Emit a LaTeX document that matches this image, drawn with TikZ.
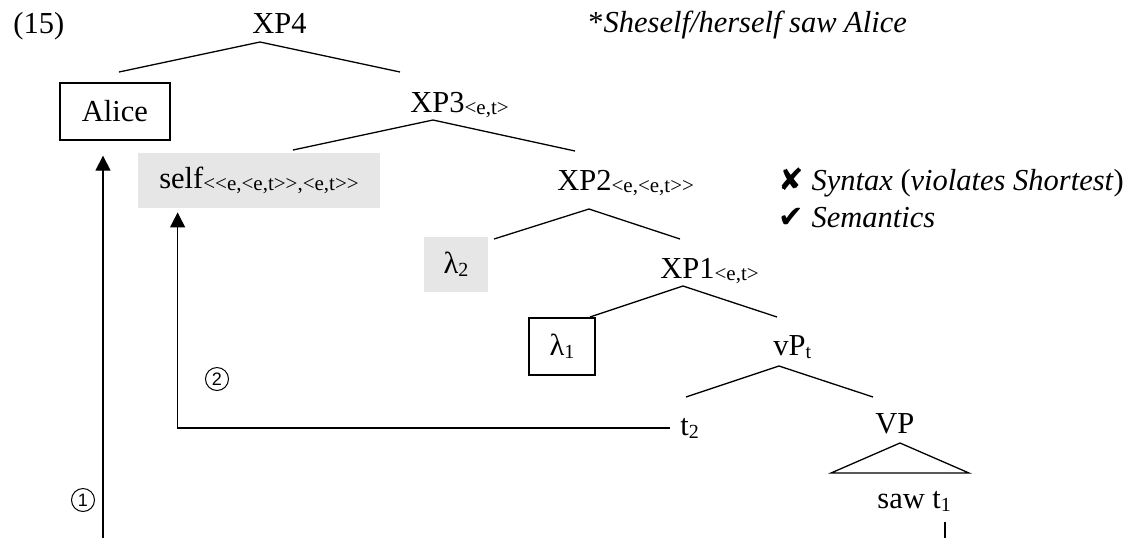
\documentclass[tikz,border=0pt]{standalone}
\usepackage{fontspec}
\setmainfont{Liberation Serif}[
  UprightFont={Liberation Serif},
  ItalicFont={Liberation Serif Italic},
  BoldFont={Liberation Serif Bold}]
\newfontfamily\dejavu{DejaVu Sans}
\newfontfamily\arialish{Liberation Sans}
\usetikzlibrary{arrows.meta,calc}
% semantic type subscripts and index subscripts
\newcommand\typ[1]{\raisebox{-1pt}{\fontsize{10.5}{12}\selectfont #1}}
\newcommand\idx[1]{\raisebox{-1.5pt}{\fontsize{10}{12}\selectfont #1}}
\definecolor{shade}{RGB}{230,230,230}

\begin{document}
\begin{tikzpicture}[x=0.5pt,y=-0.5pt,
  every node/.style={inner sep=0pt, font=\fontsize{15.25}{18}\selectfont},
  lbl/.style={anchor=base west},
  branch/.style={line width=0.65pt},
  boxed/.style={draw, line width=0.65pt, anchor=center},
  shaded/.style={fill=shade, anchor=center},
  move/.style={line width=0.65pt, -{Triangle[length=7.5pt,width=7.5pt]}},
  circnum/.style={circle, draw, line width=0.5pt, minimum size=11.5pt,
    font=\arialish\fontsize{9}{10}\selectfont}]
\useasboundingbox (0,0) rectangle (1142,538);

% labels
\node[lbl] (ex) at (13,33) {(15)};
\node[lbl] (xp4) at (252,33) {XP4};
\node[lbl] (judg) at (588,32) {*\textit{Sheself/herself saw Alice}};
\node[boxed, minimum width=55pt, minimum height=28.5pt] (alice) at (115,111.5) {Alice};
\node[lbl] (xp3) at (410,112) {XP3\typ{<e,t>}};
\node[shaded, minimum width=121pt, minimum height=27.5pt] (self) at (259,180.5)
  {self\typ{<{}<e,<e,t>{}>,<e,t>{}>}};
\node[lbl] (xp2) at (557,190) {XP2\typ{<e,<e,t>{}>}};
\node[lbl] (syn) at (778,190) {{\dejavu ✘} \textit{Syntax} (\textit{violates Shortest})};
\node[lbl] (sem) at (778,227) {{\dejavu ✔} \textit{Semantics}};
\node[shaded, minimum width=32pt, minimum height=27.5pt] (lam2) at (456,264.5) {λ\idx{2}};
\node[lbl] (xp1) at (660,278) {XP1\typ{<e,t>}};
\node[boxed, minimum width=33pt, minimum height=28.5pt] (lam1) at (562,346.5) {λ\idx{1}};
\node[lbl] (vp) at (773,355) {vP\idx{t}};
\node[lbl] (t2) at (680,435) {t\idx{2}};
\node[lbl] (VP) at (875,433) {VP};
\node[lbl] (saw) at (877,508) {saw t\idx{1}};
\node[circnum] (one) at (83,500) {1};
\node[circnum] (two) at (217,379) {2};

% branch points of the tree
\coordinate (xp4-b) at (260,42);
\coordinate (xp4-l) at (119,72);
\coordinate (xp4-r) at (400,72);
\coordinate (xp3-b) at (433,120);
\coordinate (xp3-l) at (293,150);
\coordinate (xp3-r) at (575,151);
\coordinate (xp2-b) at (589,209);
\coordinate (xp2-l) at (494,239);
\coordinate (xp2-r) at (680,239);
\coordinate (xp1-b) at (683,286);
\coordinate (xp1-l) at (590,317);
\coordinate (xp1-r) at (777,317);
\coordinate (vp-b) at (779,366);
\coordinate (vp-l) at (686,397);
\coordinate (vp-r) at (873,397);
\coordinate (VP-b) at (900,443);
\coordinate (VP-l) at (831,473);
\coordinate (VP-r) at (969,473);

\draw[branch] (xp4-l) -- (xp4-b) -- (xp4-r);
\draw[branch] (xp3-l) -- (xp3-b) -- (xp3-r);
\draw[branch] (xp2-l) -- (xp2-b) -- (xp2-r);
\draw[branch] (xp1-l) -- (xp1-b) -- (xp1-r);
\draw[branch] (vp-l) -- (vp-b) -- (vp-r);
\draw[branch] (VP-l) -- (VP-b) -- (VP-r) -- cycle;

% movement arrows
\coordinate (foot1) at (103,538);
\draw[move, shorten >=7.5pt] (foot1) -- (foot1 |- alice.south);
\draw[move, shorten >=2pt] ($(t2.west)+(-10,0)$) -| ($(self.south west)+(40,0)$);
\coordinate (tail1) at (945,538);
\draw[branch] (tail1) -- ++(0,-16);
\end{tikzpicture}
\end{document}
